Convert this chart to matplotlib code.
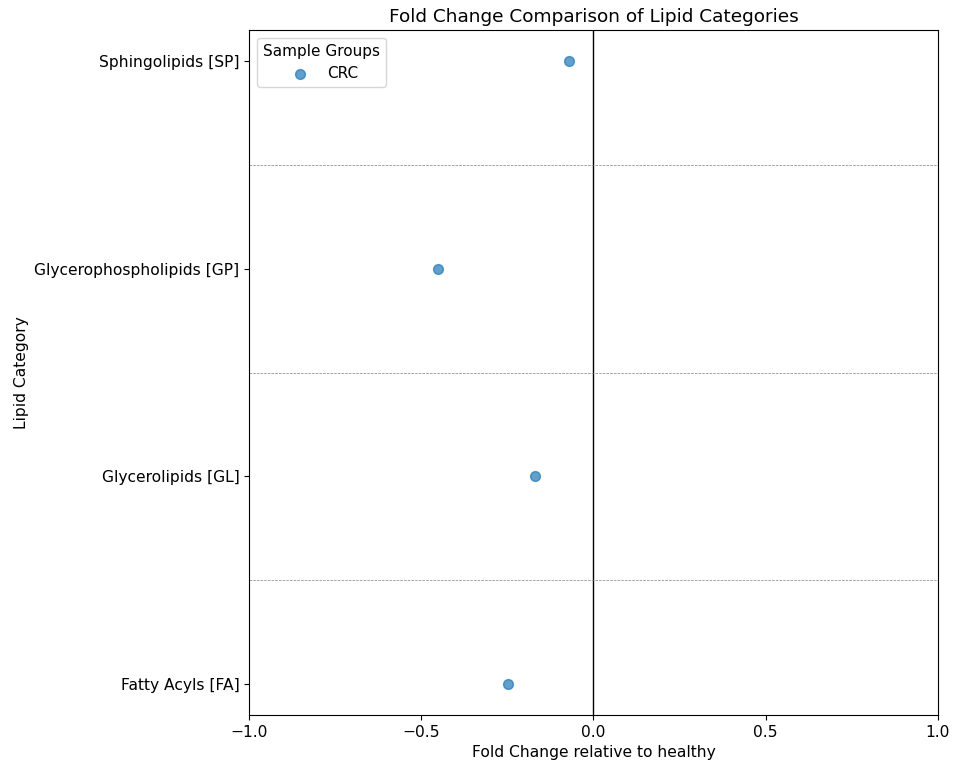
import matplotlib.pyplot as plt
import numpy as np

categories = ["Fatty Acyls [FA]", "Glycerolipids [GL]",
              "Glycerophospholipids [GP]", "Sphingolipids [SP]"]
crc_fold_change = [-0.248, -0.170, -0.451, -0.071]
x_ticks = [-1.0, -0.5, 0.0, 0.5, 1.0]

fig, ax = plt.subplots(figsize=(9.56, 7.69), dpi=100)
fig.subplots_adjust(left=0.2605, right=0.981, top=0.961, bottom=0.0702)

y = np.arange(len(categories))
ax.scatter(crc_fold_change, y, s=50, alpha=0.7, label="CRC")
ax.axvline(0, color="black", linewidth=1)
for i in range(len(categories) - 1):
    ax.axhline(i + 0.5, color="grey", linestyle="--", linewidth=0.5)

ax.set_yticks(y)
ax.set_yticklabels(categories, fontsize=11.2)
ax.set_xlim(-1, 1)
ax.set_xticks(x_ticks)
ax.tick_params(axis="x", labelsize=11.2)
ax.set_xlabel("Fold Change relative to healthy", fontsize=11.2)
ax.set_ylabel("Lipid Category", fontsize=11.2)
ax.set_title("Fold Change Comparison of Lipid Categories", fontsize=13.3)
ax.legend(title="Sample Groups", loc="upper left", fontsize=11, title_fontsize=11)

plt.savefig("out.png")
